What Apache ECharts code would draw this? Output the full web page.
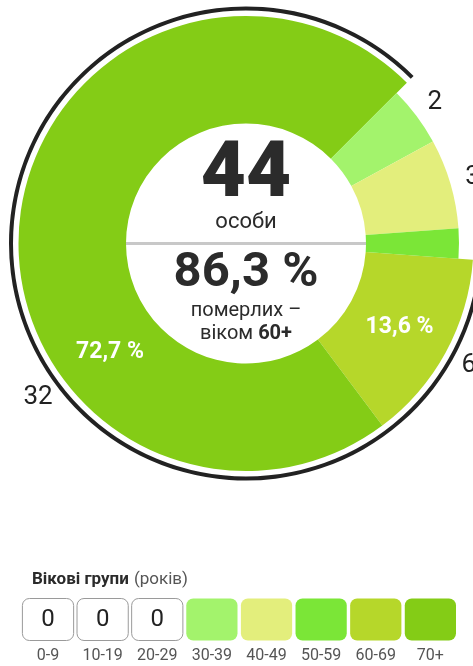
<!DOCTYPE html>
<html>
<head>
<meta charset="utf-8">
<script src="https://cdn.jsdelivr.net/npm/echarts@6/dist/echarts.min.js"></script>
<style>
  html, body { margin: 0; padding: 0; background: #fff; }
  #chart { width: 473px; height: 666px; }
</style>
</head>
<body>
<div id="chart"></div>
<script>
// age groups and number of deaths
const ageGroups = ['0-9', '10-19', '20-29', '30-39', '40-49', '50-59', '60-69', '70+'];
const counts = [0, 0, 0, 2, 3, 1, 6, 32];
const groupColors = ['#ffffff', '#ffffff', '#ffffff', '#a3f36c', '#e3ee7c', '#7be637', '#b6d72a', '#84cc16'];
const totalText = '44';
const totalUnit = 'особи';
const oldShareText = '86,3 %';

const FONT = 'Roboto, "Noto Sans", sans-serif';
const cx = 246, cy = 243.5;

const total = counts.reduce((a, b) => a + b, 0);
// only non-empty groups go into the ring
const ring = [];
counts.forEach((v, i) => { if (v > 0) ring.push({ name: ageGroups[i], value: v, color: groupColors[i] }); });
const isOld = (name) => name === '60-69' || name === '70+';

// mid angles (clockwise from 45deg) to place labels
const startAngle = 45;
let acc = startAngle;
const midAngle = ring.map(d => {
  const span = d.value / total * 360;
  const m = acc - span / 2;
  acc -= span;
  return m;
});
function polar(r, deg) {
  const a = deg * Math.PI / 180;
  return [cx + r * Math.cos(a), cy - r * Math.sin(a)];
}
const pct = (v) => (v / total * 100).toFixed(1).replace('.', ',') + ' %';
const last = ring.length - 1;

// share labels inside the 60+ slices
const shareLabels = [];
ring.forEach((d, i) => {
  if (!isOld(d.name)) return;
  const pt = i === last ? polar(174, -141.4) : polar(175, midAngle[i]);
  shareLabels.push({
    type: 'text', silent: true, z: 100,
    style: { text: pct(d.value), x: pt[0], y: pt[1], align: 'center', verticalAlign: 'middle', font: 'bold 23px ' + FONT, fill: '#fff' }
  });
});

const chart = echarts.init(document.getElementById('chart'));
chart.setOption({
  animation: false,
  backgroundColor: '#fff',
  title: {
    text: '{b|Вікові групи} {n|(років)}',
    left: 27, top: 566,
    textStyle: {
      rich: {
        b: { fontFamily: FONT, fontSize: 17, fontWeight: 'bold', color: '#2b2b2b' },
        n: { fontFamily: FONT, fontSize: 17, fontWeight: 'normal', color: '#555' }
      }
    }
  },
  grid: { left: 20.7, right: 15.3, top: 598, height: 43 },
  xAxis: {
    type: 'category', data: ageGroups,
    axisLine: { show: false }, axisTick: { show: false },
    axisLabel: { fontFamily: FONT, fontSize: 16, color: '#555', margin: 7 }
  },
  yAxis: { type: 'value', min: 0, max: 1, show: false },
  graphic: [
    { type: 'line', shape: { x1: cx - 120, y1: cy, x2: cx + 120, y2: cy }, style: { stroke: '#c8c8c8', lineWidth: 3 } },
    { type: 'text', style: { text: totalText, x: cx, y: 176, align: 'center', verticalAlign: 'middle', font: '900 78px ' + FONT, fill: '#2b2b2b' } },
    { type: 'text', style: { text: totalUnit, x: cx, y: 222, align: 'center', verticalAlign: 'middle', font: '22px ' + FONT, fill: '#2b2b2b' } },
    { type: 'text', style: { text: oldShareText, x: cx, y: 274, align: 'center', verticalAlign: 'middle', font: 'bold 49px ' + FONT, fill: '#2b2b2b' } },
    { type: 'text', style: { text: 'померлих –', x: cx, y: 311, align: 'center', verticalAlign: 'middle', font: '20px ' + FONT, fill: '#2b2b2b' } },
    { type: 'text', style: {
        text: '{n|віком }{b|60+}', x: cx, y: 334, align: 'center', verticalAlign: 'middle',
        rich: { n: { fontFamily: FONT, fontSize: 20, fill: '#2b2b2b' }, b: { fontFamily: FONT, fontSize: 20, fontWeight: 'bold', fill: '#2b2b2b' } }
      } }
  ].concat(shareLabels),
  series: [
    {
      // younger groups, shorter ring; carries the count labels
      type: 'pie', center: [cx, cy], radius: [120, 213], startAngle: startAngle, silent: true,
      data: ring.map(d => ({ name: d.name, value: d.value, itemStyle: { color: isOld(d.name) ? 'rgba(0,0,0,0)' : d.color } })),
      label: { show: true, position: 'inside', formatter: '{c}', fontFamily: FONT, fontSize: 26, color: '#222' },
      labelLine: { show: false },
      labelLayout: function (p) {
        const r = p.dataIndex === last ? 259 : (isOld(ring[p.dataIndex].name) ? 254 : 236);
        const ang = p.dataIndex === last ? -143.4 : midAngle[p.dataIndex];
        const pt = polar(r, ang);
        return { x: pt[0], y: pt[1], align: 'center', verticalAlign: 'middle' };
      }
    },
    {
      // 60+ groups, taller ring
      type: 'pie', center: [cx, cy], radius: [120, 227.5], startAngle: startAngle, silent: true, z: 1,
      data: ring.map(d => ({ name: d.name, value: d.value, itemStyle: { color: isOld(d.name) ? d.color : 'rgba(0,0,0,0)' } })),
      label: { show: false }, labelLine: { show: false }
    },
    {
      // black arc marking the 60+ share
      type: 'pie', center: [cx, cy], radius: [233, 237], startAngle: startAngle, silent: true,
      label: { show: false }, labelLine: { show: false },
      data: [
        { value: ring.filter(d => !isOld(d.name)).reduce((a, d) => a + d.value, 0), itemStyle: { color: 'rgba(0,0,0,0)' } },
        { value: ring.filter(d => isOld(d.name)).reduce((a, d) => a + d.value, 0), itemStyle: { color: '#222' } }
      ]
    },
    {
      // age group key
      type: 'custom', silent: true,
      data: counts.map((v, i) => [i, v]),
      encode: { x: 0 },
      renderItem: function (params, api) {
        const i = api.value(0);
        const n = api.value(1);
        const top = api.coord([i, 1]);
        const bot = api.coord([i, 0]);
        const w = api.size([1, 0])[0] - 2.4;
        const h = bot[1] - top[1];
        const children = [{
          type: 'rect',
          shape: { x: top[0] - w / 2 + 0.5, y: top[1] + 0.5, width: w - 1, height: h - 1, r: 7 },
          style: n === 0 ? { fill: '#fff', stroke: '#9a9a9a', lineWidth: 1 } : { fill: groupColors[i] }
        }];
        if (n === 0) {
          children.push({ type: 'text', style: { text: String(n), x: top[0], y: top[1] + h / 2, align: 'center', verticalAlign: 'middle', font: '24px ' + FONT, fill: '#222' } });
        }
        return { type: 'group', children: children };
      }
    }
  ]
});
</script>
</body>
</html>
